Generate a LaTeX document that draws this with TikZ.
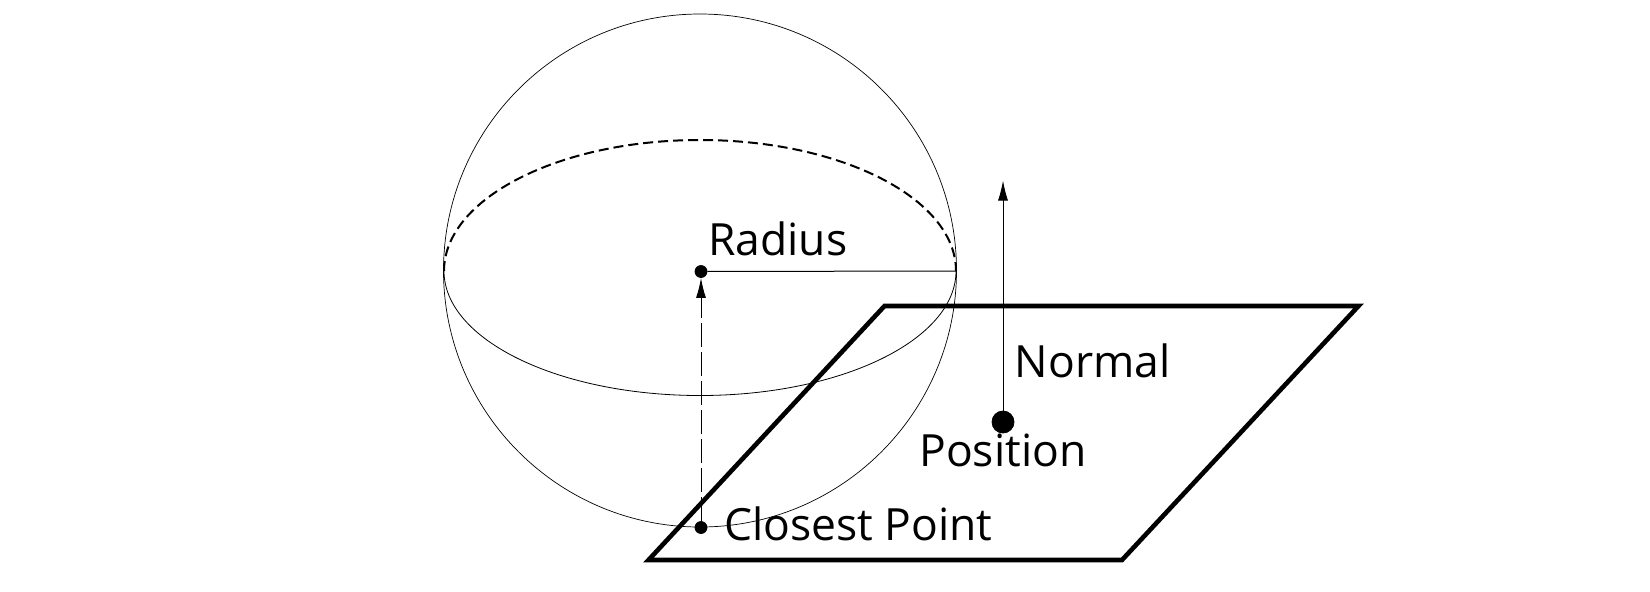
\documentclass[tikz,border=0pt]{standalone}
\usepackage{fontspec}
\setmainfont{Open Sans}
\usetikzlibrary{arrows.meta}
\tikzset{
    spherenode/.style = {draw, circle, inner sep = 0em, minimum size=256.5pt, line width=0.35pt},
    dotnode/.style = {draw, fill=black, circle, minimum size=6pt, inner sep = 0em},
    bigdotnode/.style = {dotnode, minimum size=11pt},
    textnode/.style = {draw=none, fill=none, inner sep = 0em, anchor=base west, font=\fontsize{22.2}{23}\selectfont},
    thinline/.style = {line width=0.4pt},
    connect/.style = {line width=0.5pt, -{Latex[length=10pt,width=5pt]}},
    planeline/.style = {line width=2.3pt, line join=miter}
}
\begin{document}
\begin{tikzpicture}[x=0.5pt,y=-0.5pt]
\useasboundingbox (0,0) rectangle (1650,591);
\node [spherenode, name=sphere] at (700,270.5) {};
\node [dotnode, name=center] at (701,271.5) {};
\node [dotnode, name=closest] at (701,527.5) {};
\node [bigdotnode, name=position] at (1003,422) {};
\coordinate (tip) at (1003,180.5);
\coordinate (eqleft) at (444,271);
\coordinate (eqright) at (956,271);

% equator
\draw [thinline] (eqleft) arc[start angle=180, end angle=360, x radius=256, y radius=-124.5];
\draw [line width=1pt, dash pattern=on 5pt off 2.5pt] (eqleft) arc[start angle=180, end angle=0, x radius=256, y radius=-131];

% plane
\coordinate (planeA) at (884.5,306);
\coordinate (planeB) at (1358.5,306);
\coordinate (planeC) at (1122,560);
\coordinate (planeD) at (648.5,560);
\draw [planeline] (planeA) -- (planeB) -- (planeC) -- (planeD) -- cycle;

\draw [line width=0.5pt] (center) -- (eqright);
\draw [connect, dash pattern=on 12pt off 2.5pt] (closest) -- (center);
\draw [connect] (position) -- (tip);

\node [textnode, name=radiuslabel, xshift=3.5pt, yshift=8pt] at (center) {Radius};
\node [textnode, name=normallabel] at (1014.5,377.5) {Normal};
\node [textnode, name=positionlabel] at (919,466.5) {Position};
\node [textnode, name=closestlabel] at (724,540) {Closest Point};
\end{tikzpicture}
\end{document}
